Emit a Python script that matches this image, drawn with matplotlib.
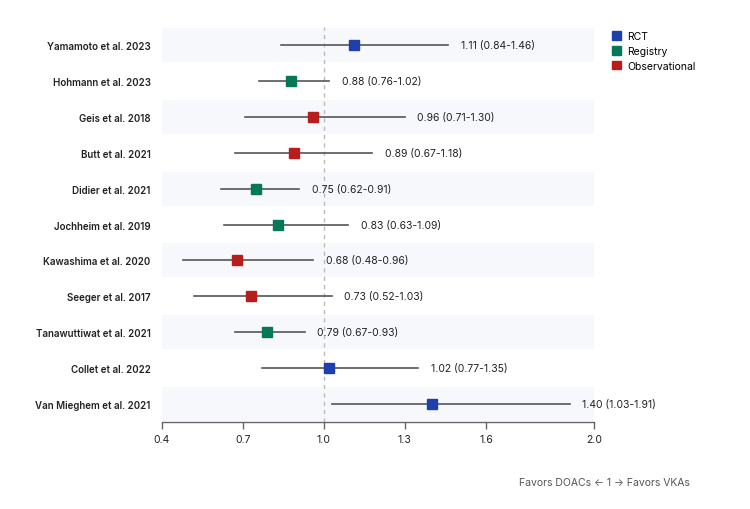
import numpy as np
import matplotlib
matplotlib.use('Agg')
import matplotlib.pyplot as plt
from matplotlib.patches import Patch

plt.rcParams['font.family'] = ['Inter', 'DejaVu Sans']

studies = ["Yamamoto et al. 2023", "Hohmann et al. 2023", "Geis et al. 2018",
           "Butt et al. 2021", "Didier et al. 2021", "Jochheim et al. 2019",
           "Kawashima et al. 2020", "Seeger et al. 2017", "Tanawuttiwat et al. 2021",
           "Collet et al. 2022", "Van Mieghem et al. 2021"]
hr = [1.11, 0.88, 0.96, 0.89, 0.75, 0.83, 0.68, 0.73, 0.79, 1.02, 1.40]
lower = [0.84, 0.76, 0.71, 0.67, 0.62, 0.63, 0.48, 0.52, 0.67, 0.77, 1.03]
upper = [1.46, 1.02, 1.30, 1.18, 0.91, 1.09, 0.96, 1.03, 0.93, 1.35, 1.91]
design = ["RCT", "Registry", "Observational", "Observational", "Registry", "Registry",
          "Observational", "Observational", "Registry", "RCT", "RCT"]
xticks = [0.4, 0.7, 1.0, 1.3, 1.6, 2.0]

colors = {"RCT": "#1e40af", "Registry": "#047857", "Observational": "#b91c1c"}

fig = plt.figure(figsize=(7.5, 5.1), dpi=100)
ax = fig.add_axes([0.2156, 0.1706, 0.5764, 0.7744])

y = np.arange(len(studies))
ax.set_xlim(0.4, 2.0)
ax.set_ylim(len(studies) - 0.5, -0.5)

# alternating row bands
for i in y:
    if i % 2 == 0:
        ax.axhspan(i - 0.475, i + 0.475, color="#f7f8fc", zorder=0, lw=0)

ax.axvline(1.0, color="#bbbbbb", ls=(0, (3, 3)), lw=1, zorder=1)

for i in y:
    ax.plot([lower[i], upper[i]], [i, i], color="#555555", lw=1.2, zorder=2)
    ax.plot(hr[i], i, marker="s", ms=6.5, color=colors[design[i]], zorder=3)
    ax.annotate(f"{hr[i]:.2f} ({lower[i]:.2f}-{upper[i]:.2f})", (upper[i], i),
                xytext=(9, 0), textcoords="offset points", va="center",
                fontsize=7.5, color="#222222")

ax.set_yticks(y)
ax.set_yticklabels(studies, fontsize=7, fontweight="semibold", color="#222222")
ax.tick_params(axis="y", length=0, pad=8)
ax.set_xticks(xticks)
ax.set_xticklabels([f"{t:.1f}" for t in xticks], fontsize=7.5, color="#222222")
ax.tick_params(axis="x", length=5, color="#666666", width=1)

for s in ["top", "right", "left"]:
    ax.spines[s].set_visible(False)
ax.spines["bottom"].set_color("#666666")
ax.spines["bottom"].set_linewidth(1)

handles = [Patch(color=colors[k], label=k) for k in colors]
fig.legend(handles=handles, loc="upper left", bbox_to_anchor=(0.803, 0.955),
           frameon=False, fontsize=7.5, handlelength=0.9, handleheight=0.9,
           handletextpad=0.6, labelspacing=0.45)

fig.text(0.92, 1 - 483 / 510, "Favors DOACs \u2190 1 \u2192 Favors VKAs",
         ha="right", va="center", fontsize=7.5, color="#555555")

fig.savefig("out.png", dpi=100)
